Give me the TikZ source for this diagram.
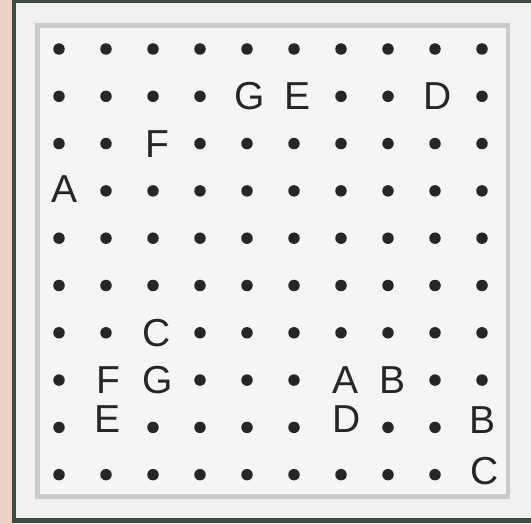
\documentclass[tikz,border=0pt]{standalone}
\usepackage{fontspec}
\setmainfont{Liberation Sans}
\definecolor{beige}{HTML}{EBD3C4}
\definecolor{outerbg}{HTML}{EFF1EF}
\definecolor{innerbg}{HTML}{F5F6F4}
\definecolor{darkrim}{HTML}{3C4A42}
\definecolor{grayrim}{HTML}{C9CBC9}
\definecolor{ink}{HTML}{262626}
\tikzset{
  dot/.style={circle, fill=ink, draw=none, minimum size=11.5pt, inner sep=0pt},
  letter/.style={inner sep=0pt, text=ink, font=\fontsize{39}{39}\selectfont},
}
\begin{document}
\begin{tikzpicture}[x=1pt,y=-1pt]
\useasboundingbox (0,0) rectangle (531,524);
\fill[beige] (0,0) rectangle (14,524);
\fill[outerbg] (14,0) rectangle (531,524);
\fill[darkrim] (12,0) rectangle (531,3);
\fill[darkrim] (12,0) rectangle (16,523);
\fill[darkrim] (12,518) rectangle (531,523);
\draw[grayrim, line width=4.5pt, fill=innerbg] (37.5,25.5) rectangle (508,496.5);
% letter cells
\foreach \r/\c in {2/5,2/6,2/9,3/3,4/1,7/3,8/2,8/3,8/7,8/8,9/2,9/7,9/10,10/10}
  {\expandafter\gdef\csname skip\r-\c\endcsname{}}
\foreach \r in {1,...,10}
  \foreach \c in {1,...,10}
    {\ifcsname skip\r-\c\endcsname\else
       \node[dot] (d\r-\c) at ({59+47*(\c-1)},{49+47.3*(\r-1)}) {};
     \fi}
\foreach \r/\c/\t/\dx/\dy/\n in {
  2/5/G/3/0/g1, 2/6/E/4/0/e1, 2/9/D/3/0/d1, 3/3/F/4/0/f1,
  4/1/A/6/-2/a1, 7/3/C/4/0/c1, 8/2/F/2/0/f2, 8/3/G/5/0/g2,
  8/7/A/5/0/a2, 8/8/B/5/0/b1, 9/2/E/2/-8/e2, 9/7/D/6/-8/d2,
  9/10/B/1/-7/b2, 10/10/C/3/-4/c2}
  {\node[letter] (\n) at ({59+47*(\c-1)+\dx},{49+47.3*(\r-1)+\dy}) {\t};}
\end{tikzpicture}
\end{document}
